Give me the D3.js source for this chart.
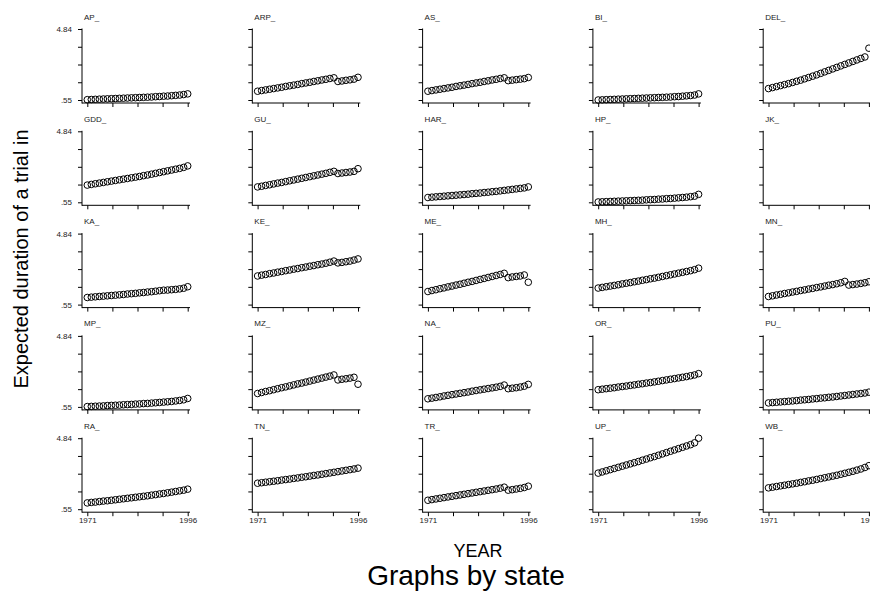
<!DOCTYPE html>
<html>
  <head>
    <title>Graphs by state</title>
    <style>
    body {
        margin: 0px;
        overflow: hidden;
        background: #fff;
    }

    text {
        font-family: "Liberation Sans", Arial, sans-serif;
    }

    .tick text {
        font-size: 8px;
        fill: #222;
    }

    .tick line {
        stroke: #000;
    }

    .panel-title {
        font-size: 8px;
        fill: #222;
    }
    </style>
    <script src="https://d3js.org/d3.v7.min.js"></script>
  </head>
  <body>

    <svg width="870" height="592"></svg>

    <script>
        // years on the x axis
        const years = [1971, 1972, 1973, 1974, 1975, 1976, 1977, 1978, 1979, 1980,
                       1981, 1982, 1983, 1984, 1985, 1986, 1987, 1988, 1989, 1990,
                       1991, 1992, 1993, 1994, 1995, 1996];

        const states = ['AP_', 'ARP_', 'AS_', 'BI_', 'DEL_',
                        'GDD_', 'GU_', 'HAR_', 'HP_', 'JK_',
                        'KA_', 'KE_', 'ME_', 'MH_', 'MN_',
                        'MP_', 'MZ_', 'NA_', 'OR_', 'PU_',
                        'RA_', 'TN_', 'TR_', 'UP_', 'WB_'];

        const yTicks = [0.55, 1.6225, 2.695, 3.7675, 4.84];
        const yTickLabels = ['.55', '', '', '', '4.84'];
        const xTicks = [1971, 1977.25, 1983.5, 1989.75, 1996];
        const xTickLabels = ['1971', '', '', '', '1996'];

        // expected duration, one value per year
        const AP  = [0.57, 0.58, 0.59, 0.60, 0.61, 0.62, 0.63, 0.64, 0.65, 0.66, 0.67, 0.68, 0.69,
                     0.70, 0.71, 0.72, 0.73, 0.75, 0.76, 0.78, 0.79, 0.81, 0.83, 0.85, 0.88, 0.92];
        const ARP = [1.08, 1.12, 1.16, 1.20, 1.24, 1.28, 1.32, 1.37, 1.41, 1.45, 1.49, 1.54, 1.58,
                     1.62, 1.67, 1.71, 1.76, 1.80, 1.85, 1.89, 1.67, 1.70, 1.74, 1.77, 1.81, 1.92];
        const AS  = [1.08, 1.12, 1.16, 1.20, 1.24, 1.28, 1.32, 1.37, 1.41, 1.45, 1.49, 1.54, 1.58,
                     1.62, 1.67, 1.71, 1.76, 1.80, 1.85, 1.89, 1.72, 1.75, 1.78, 1.81, 1.84, 1.91];
        const BI  = [0.55, 0.56, 0.57, 0.58, 0.59, 0.60, 0.61, 0.62, 0.63, 0.64, 0.65, 0.66, 0.67,
                     0.68, 0.69, 0.70, 0.71, 0.72, 0.73, 0.75, 0.76, 0.78, 0.80, 0.82, 0.85, 0.92];
        const DEL = [1.24, 1.30, 1.36, 1.42, 1.48, 1.54, 1.61, 1.68, 1.75, 1.83, 1.91, 1.99, 2.07,
                     2.16, 2.25, 2.34, 2.43, 2.52, 2.61, 2.70, 2.79, 2.88, 2.97, 3.06, 3.15, 3.68];
        const GDD = [1.59, 1.63, 1.67, 1.71, 1.75, 1.79, 1.83, 1.87, 1.91, 1.95, 1.99, 2.03, 2.07,
                     2.11, 2.16, 2.20, 2.25, 2.30, 2.35, 2.40, 2.45, 2.50, 2.55, 2.60, 2.66, 2.75];
        const GU  = [1.48, 1.52, 1.57, 1.61, 1.66, 1.71, 1.75, 1.80, 1.85, 1.90, 1.95, 2.00, 2.05,
                     2.10, 2.15, 2.20, 2.25, 2.30, 2.36, 2.42, 2.29, 2.32, 2.35, 2.38, 2.42, 2.58];
        const HAR = [0.84, 0.86, 0.88, 0.90, 0.92, 0.94, 0.96, 0.98, 1.00, 1.02, 1.04, 1.07, 1.09,
                     1.11, 1.14, 1.16, 1.19, 1.21, 1.24, 1.27, 1.30, 1.33, 1.36, 1.39, 1.42, 1.48];
        const HP  = [0.57, 0.58, 0.59, 0.60, 0.61, 0.62, 0.63, 0.64, 0.65, 0.66, 0.67, 0.68, 0.70,
                     0.71, 0.72, 0.74, 0.75, 0.77, 0.78, 0.80, 0.82, 0.84, 0.86, 0.89, 0.92, 1.03];
        const JK  = [];
        const KA  = [0.98, 1.00, 1.02, 1.04, 1.06, 1.08, 1.10, 1.12, 1.14, 1.16, 1.19, 1.21, 1.23,
                     1.26, 1.28, 1.31, 1.33, 1.36, 1.39, 1.42, 1.43, 1.45, 1.47, 1.50, 1.54, 1.63];
        const KE  = [2.28, 2.33, 2.37, 2.42, 2.46, 2.51, 2.55, 2.60, 2.64, 2.69, 2.73, 2.78, 2.82,
                     2.87, 2.91, 2.96, 3.00, 3.05, 3.11, 3.18, 3.07, 3.10, 3.14, 3.18, 3.24, 3.31];
        const ME  = [1.34, 1.40, 1.45, 1.51, 1.56, 1.62, 1.67, 1.73, 1.78, 1.84, 1.90, 1.95, 2.01,
                     2.07, 2.13, 2.19, 2.25, 2.31, 2.37, 2.44, 2.18, 2.22, 2.25, 2.28, 2.34, 1.90];
        const MH  = [1.55, 1.59, 1.63, 1.67, 1.71, 1.75, 1.80, 1.84, 1.88, 1.93, 1.97, 2.02, 2.06,
                     2.11, 2.15, 2.20, 2.25, 2.30, 2.35, 2.40, 2.45, 2.50, 2.55, 2.60, 2.66, 2.75];
        const MN  = [1.04, 1.08, 1.13, 1.17, 1.22, 1.26, 1.31, 1.35, 1.40, 1.44, 1.49, 1.53, 1.58,
                     1.62, 1.67, 1.72, 1.76, 1.81, 1.87, 1.95, 1.73, 1.76, 1.79, 1.83, 1.87, 1.93];
        const MP  = [0.57, 0.58, 0.59, 0.60, 0.61, 0.63, 0.64, 0.65, 0.66, 0.68, 0.69, 0.70, 0.72,
                     0.73, 0.75, 0.76, 0.78, 0.80, 0.82, 0.84, 0.86, 0.88, 0.91, 0.94, 0.98, 1.06];
        const MZ  = [1.36, 1.42, 1.48, 1.53, 1.59, 1.65, 1.71, 1.76, 1.82, 1.88, 1.94, 1.99, 2.05,
                     2.11, 2.17, 2.23, 2.29, 2.35, 2.41, 2.48, 2.18, 2.22, 2.25, 2.29, 2.34, 1.92];
        const NA  = [1.04, 1.08, 1.12, 1.16, 1.21, 1.25, 1.29, 1.33, 1.37, 1.41, 1.45, 1.50, 1.54,
                     1.58, 1.62, 1.66, 1.70, 1.74, 1.79, 1.87, 1.65, 1.68, 1.71, 1.75, 1.80, 1.91];
        const OR  = [1.59, 1.62, 1.65, 1.68, 1.71, 1.75, 1.78, 1.81, 1.85, 1.88, 1.92, 1.95, 1.99,
                     2.02, 2.06, 2.10, 2.14, 2.18, 2.22, 2.26, 2.30, 2.34, 2.38, 2.43, 2.48, 2.56];
        const PU  = [0.79, 0.81, 0.83, 0.85, 0.87, 0.89, 0.91, 0.93, 0.96, 0.98, 1.00, 1.03, 1.05,
                     1.08, 1.10, 1.13, 1.15, 1.18, 1.21, 1.24, 1.27, 1.30, 1.33, 1.36, 1.39, 1.44];
        const RA  = [0.93, 0.96, 0.98, 1.01, 1.04, 1.06, 1.09, 1.12, 1.15, 1.18, 1.21, 1.24, 1.27,
                     1.30, 1.33, 1.36, 1.40, 1.43, 1.47, 1.50, 1.54, 1.58, 1.62, 1.66, 1.70, 1.76];
        const TN  = [2.12, 2.15, 2.18, 2.21, 2.24, 2.27, 2.31, 2.34, 2.37, 2.41, 2.44, 2.48, 2.51,
                     2.55, 2.59, 2.62, 2.66, 2.70, 2.74, 2.78, 2.82, 2.86, 2.90, 2.94, 2.98, 3.03];
        const TR  = [1.09, 1.13, 1.17, 1.21, 1.25, 1.29, 1.33, 1.37, 1.41, 1.45, 1.49, 1.53, 1.57,
                     1.61, 1.65, 1.69, 1.73, 1.77, 1.82, 1.88, 1.70, 1.73, 1.77, 1.81, 1.86, 1.94];
        const UP  = [2.73, 2.80, 2.87, 2.94, 3.01, 3.08, 3.15, 3.22, 3.29, 3.36, 3.43, 3.51, 3.58,
                     3.66, 3.73, 3.81, 3.89, 3.97, 4.05, 4.13, 4.21, 4.29, 4.37, 4.45, 4.56, 4.84];
        const WB  = [1.84, 1.88, 1.92, 1.96, 2.00, 2.04, 2.08, 2.12, 2.17, 2.21, 2.26, 2.30, 2.35,
                     2.40, 2.45, 2.50, 2.55, 2.60, 2.66, 2.72, 2.78, 2.84, 2.91, 2.98, 3.07, 3.18];

        const seriesByState = [AP, ARP, AS, BI, DEL, GDD, GU, HAR, HP, JK, KA, KE, ME,
                               MH, MN, MP, MZ, NA, OR, PU, RA, TN, TR, UP, WB];

        const svg = d3.select('svg');

        const nCols = 5;
        const nRows = 5;
        const colStart = 82;
        const colStep = 170.3;
        const rowStart = 29;
        const rowStep = 102.3;
        const plotH = 71;
        const axisW = 108;

        const xScale = d3.scaleLinear()
            .domain([1971, 1996])
            .range([5.3, 105.7]);

        const yScale = d3.scaleLinear()
            .domain([0.55, 4.84])
            .range([plotH, 0]);

        states.forEach((name, i) => {
            const col = i % nCols;
            const row = Math.floor(i / nCols);
            const values = seriesByState[i];
            const points = values.map((v, j) => ({ year: years[j], value: v }));

            const g = svg.append('g')
                .attr('transform', `translate(${colStart + col * colStep},${rowStart + row * rowStep})`);

            // panel title
            g.append('text')
                .attr('class', 'panel-title')
                .attr('x', 2)
                .attr('y', -9.5)
                .text(name);

            const yAxis = d3.axisLeft(yScale)
                .tickValues(yTicks)
                .tickSize(4)
                .tickPadding(6)
                .tickFormat((d, k) => col === 0 ? yTickLabels[k] : '');

            const yAxisG = g.append('g').call(yAxis);
            yAxisG.select('.domain').remove();

            const xAxis = d3.axisBottom(xScale)
                .tickValues(xTicks)
                .tickSize(4)
                .tickPadding(1)
                .tickFormat((d, k) => row === nRows - 1 ? xTickLabels[k] : '');

            const xAxisG = g.append('g')
                .attr('transform', `translate(0,${plotH + 3})`)
                .call(xAxis);
            xAxisG.select('.domain').remove();

            // axis lines
            g.append('line')
                .attr('x1', 0).attr('x2', 0)
                .attr('y1', -0.5).attr('y2', plotH + 3.5)
                .attr('stroke', '#000')
                .attr('stroke-width', 1);

            g.append('line')
                .attr('x1', 0).attr('x2', axisW)
                .attr('y1', plotH + 3).attr('y2', plotH + 3)
                .attr('stroke', '#000')
                .attr('stroke-width', 1);

            g.selectAll('circle.pt').data(points)
                .enter().append('circle')
                .attr('class', 'pt')
                .attr('cx', d => xScale(d.year))
                .attr('cy', d => yScale(d.value))
                .attr('r', 3.3)
                .attr('fill', 'none')
                .attr('stroke', '#000')
                .attr('stroke-width', 1);
        });

        // titles
        svg.append('text')
            .attr('x', 478)
            .attr('y', 557)
            .attr('text-anchor', 'middle')
            .attr('font-size', '18px')
            .attr('fill', '#000')
            .text('YEAR');

        svg.append('text')
            .attr('x', 466)
            .attr('y', 585)
            .attr('text-anchor', 'middle')
            .attr('font-size', '28px')
            .attr('fill', '#000')
            .text('Graphs by state');

        svg.append('text')
            .attr('transform', 'translate(28,259) rotate(-90)')
            .attr('text-anchor', 'middle')
            .attr('font-size', '20px')
            .attr('fill', '#000')
            .text('Expected duration of a trial in');
    </script>
  </body>
</html>
